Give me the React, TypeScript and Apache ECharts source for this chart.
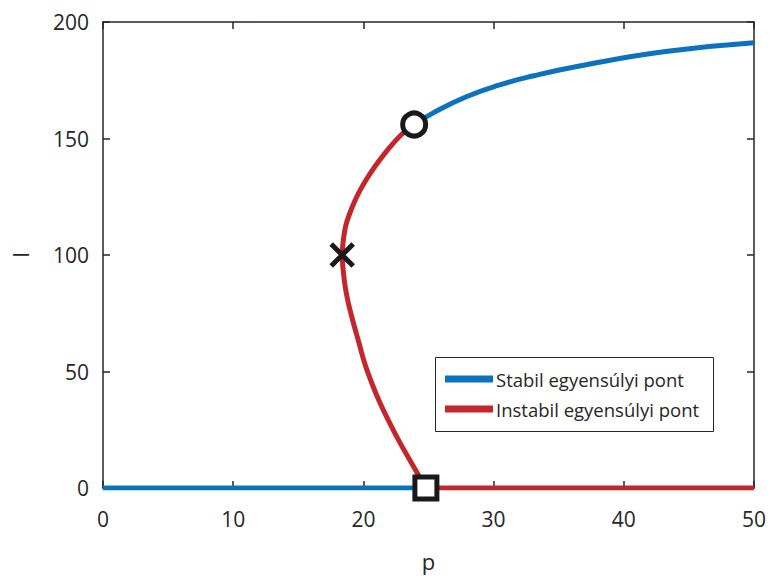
import React, { useEffect, useRef } from "react";
import * as echarts from "echarts";

// Stable branch at I = 0 (p from 0 up to the transcritical point)
const lowerStableP = [0, 24.8];
const lowerStableI = [0, 0];

// Unstable branch: bends back from the transcritical point through the fold
const unstableCurveP = [24.8, 23.78, 22.9, 22.1, 21.35, 20.7, 20.1, 19.6, 19.17, 18.79, 18.53, 18.37, 18.46, 18.66, 19.05, 19.56, 20.2, 20.97, 21.86, 22.89, 23.9];
const unstableCurveI = [0, 9.9, 18.5, 27, 35.6, 44.2, 53.5, 63.5, 72.1, 80.7, 89.3, 100, 106.4, 112.9, 119.3, 125.8, 132.2, 138.6, 145.1, 151.5, 156];

// Upper stable branch
const upperStableP = [23.9, 25.3, 27.9, 30.4, 33.0, 36.6, 43.2, 50];
const upperStableI = [156, 160.8, 167.9, 172.9, 176.8, 181.1, 187.3, 191.1];

// Unstable branch at I = 0 beyond the transcritical point
const lowerUnstableP = [24.8, 50];
const lowerUnstableI = [0, 0];

// Special points
const hopfPoint = [23.9, 156];
const foldPoint = [18.37, 100];
const transcriticalPoint = [24.8, 0];

const xTicks = { min: 0, max: 50, interval: 10 };
const yTicks = { min: 0, max: 200, interval: 50 };

const STABLE = "Stabil egyensúlyi pont";
const UNSTABLE = "Instabil egyensúlyi pont";

const BLUE = "#0B72BE";
const RED = "#C1272D";
const INK = "#262626";
const MARK = "#1a1a1a";
const FONT = "Open Sans";

const zip = (xs: number[], ys: number[]) => xs.map((x, i) => [x, ys[i]]);

export default function App() {
  const ref = useRef<HTMLDivElement>(null);

  useEffect(() => {
    if (!ref.current) return;
    const chart = echarts.init(ref.current, undefined, { renderer: "svg" });

    const lineSeries = (name: string, color: string, data: number[][], smooth: number) => ({
      type: "line",
      name,
      data,
      smooth,
      showSymbol: false,
      symbol: "none",
      lineStyle: { color, width: 5 },
      itemStyle: { color },
      z: 2,
    });

    const tick = { show: true, inside: true, length: 7, lineStyle: { color: INK, width: 1.5 } };
    const line = { show: true, onZero: false, lineStyle: { color: INK, width: 1.5 } };

    const mirrorAxis = {
      show: true,
      axisLabel: { show: false },
      axisTick: tick,
      axisLine: line,
      splitLine: { show: false },
    };

    const marker = (data: number[][], symbol: string, symbolSize: number, fill: string) => ({
      type: "scatter",
      data,
      symbol,
      symbolSize,
      itemStyle: { color: fill, borderColor: MARK, borderWidth: 5, opacity: 1 },
      z: 5,
    });

    chart.setOption({
      animation: false,
      grid: { left: 103, right: 14, top: 22, bottom: 90, containLabel: false },
      xAxis: [
        {
          type: "value",
          ...xTicks,
          position: "bottom",
          name: "p",
          nameLocation: "middle",
          nameGap: 62,
          nameTextStyle: { color: INK, fontSize: 22, fontFamily: FONT },
          axisLine: line,
          axisTick: tick,
          axisLabel: { color: INK, fontSize: 21, fontFamily: FONT, margin: 20 },
          splitLine: { show: false },
        },
        { type: "value", ...xTicks, position: "top", ...mirrorAxis },
      ],
      yAxis: [
        {
          type: "value",
          ...yTicks,
          position: "left",
          name: "I",
          nameLocation: "middle",
          nameRotate: 90,
          nameGap: 72,
          nameTextStyle: { color: INK, fontSize: 22, fontFamily: FONT },
          axisLine: line,
          axisTick: tick,
          axisLabel: { color: INK, fontSize: 21, fontFamily: FONT, margin: 14 },
          splitLine: { show: false },
        },
        { type: "value", ...yTicks, position: "right", ...mirrorAxis },
      ],
      legend: {
        orient: "vertical",
        left: 445,
        top: 368,
        itemWidth: 48,
        itemHeight: 7,
        itemGap: 8,
        icon: "rect",
        padding: 0,
        z: 11,
        data: [
          { name: STABLE, itemStyle: { color: BLUE } },
          { name: UNSTABLE, itemStyle: { color: RED } },
        ],
        textStyle: { color: INK, fontSize: 18.5, fontFamily: FONT, lineHeight: 22, padding: [0, 0, 0, -2] },
        selectedMode: false,
      },
      graphic: [
        {
          type: "rect",
          z: 10,
          shape: { x: 435.5, y: 357.5, width: 278, height: 74 },
          style: { fill: "#ffffff", stroke: INK, lineWidth: 1 },
        },
      ],
      series: [
        lineSeries(STABLE, BLUE, zip(lowerStableP, lowerStableI), 0),
        lineSeries(STABLE, BLUE, zip(upperStableP, upperStableI), 0.5),
        lineSeries(UNSTABLE, RED, zip(unstableCurveP, unstableCurveI), 0.25),
        lineSeries(UNSTABLE, RED, zip(lowerUnstableP, lowerUnstableI), 0),
        marker([hopfPoint], "circle", 23, "#ffffff"),
        marker([foldPoint], "path://M0,0L10,10M10,0L0,10", 22, "none"),
        marker([transcriticalPoint], "rect", 22, "#ffffff"),
      ],
    });

    return () => chart.dispose();
  }, []);

  return (
    <div
      ref={ref}
      style={{ position: "fixed", left: 0, top: 0, width: 769, height: 578, background: "#ffffff" }}
    />
  );
}
